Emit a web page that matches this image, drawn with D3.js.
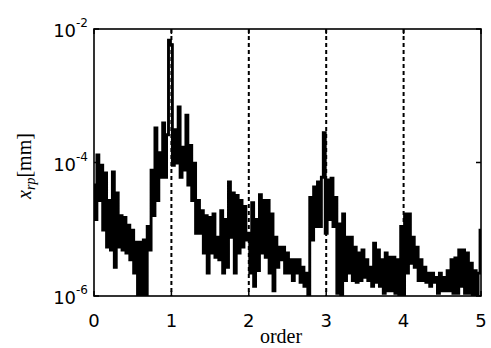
<!DOCTYPE html>
<html>
<head>
<meta charset="utf-8">
<script src="https://cdn.jsdelivr.net/npm/d3@7"></script>
<style>
  html, body { margin: 0; padding: 0; background: #fff; }
  svg { display: block; }
</style>
</head>
<body>
<svg id="chart" width="491" height="348"></svg>
<script>
// ---- data ----
const orderStep = 0.025; // spacing of spectrum samples (order units)
const amplitude = [
  4.6e-5, 1.4e-5, 1.3e-4, 2.7e-5, 9.1e-5, 9.7e-6, 7.0e-5, 5.4e-6, 2.7e-5, 4.9e-6,
  7.2e-5, 2.7e-6, 3.5e-5, 5.4e-6, 1.6e-5, 4.9e-6, 1.5e-5, 4.4e-6, 1.15e-5, 3.5e-6,
  9.7e-6, 2.2e-6, 6.4e-6, 9e-7, 6.4e-6, 9e-7, 6.9e-6, 9e-7, 1.1e-5, 4.9e-6,
  7.7e-5, 1.6e-5, 3.3e-4, 2.7e-5, 1.4e-4, 6.0e-5, 3.9e-4, 6.0e-5, 2.6e-4, 6.8e-3,
  5.8e-3, 9.1e-5, 3.1e-4, 9.8e-5, 6.8e-4, 6.0e-5, 1.7e-4, 7.7e-5, 5.1e-4, 4.6e-5,
  1.8e-4, 2.7e-5, 9.8e-5, 8.7e-6, 2.7e-5, 8.7e-6, 1.9e-5, 4.4e-6, 1.6e-5, 2.2e-6,
  1.5e-5, 4.4e-6, 1.7e-5, 3.8e-6, 7.6e-6, 3.5e-6, 1.9e-5, 2.2e-6, 1.4e-5, 2.7e-6,
  5.1e-5, 7.6e-6, 3.5e-5, 2.2e-6, 3.2e-5, 4.4e-6, 2.7e-5, 5.4e-6, 2.2e-5, 6.9e-6,
  8.7e-6, 2.2e-6, 2.5e-5, 1.4e-6, 1.4e-5, 2.4e-6, 3.3e-5, 4.4e-6, 2.7e-5, 3.8e-6,
  2.7e-5, 2.2e-6, 1.7e-5, 1.2e-6, 7.6e-6, 2.7e-6, 5.4e-6, 3.5e-6, 5.4e-6, 2.2e-6,
  4.4e-6, 2.2e-6, 3.5e-6, 1.7e-6, 3.5e-6, 2.2e-6, 3.5e-6, 1.6e-6, 2.7e-6, 1.4e-6,
  2.2e-6, 9e-7, 3.0e-5, 6.9e-6, 4.3e-5, 1.1e-5, 5.1e-5, 1.1e-5, 6.0e-5, 2.8e-4,
  8.7e-6, 5.5e-5, 1.4e-5, 5.8e-5, 1.1e-5, 3.0e-5, 1.1e-6, 1.2e-5, 9e-7, 1.7e-5,
  1.7e-6, 7.6e-6, 2.2e-6, 7.6e-6, 1.7e-6, 5.4e-6, 1.6e-6, 4.4e-6, 1.7e-6, 4.9e-6,
  1.9e-6, 3.5e-6, 1.7e-6, 2.7e-6, 1.4e-6, 6.2e-6, 1.6e-6, 4.9e-6, 1.4e-6, 3.5e-6,
  1.1e-6, 4.4e-6, 1.2e-6, 3.8e-6, 1.2e-6, 3.8e-6, 1.1e-6, 3.5e-6, 9e-7, 1.1e-5,
  9e-7, 1.7e-5, 2.2e-6, 1.7e-5, 3.1e-6, 7.6e-6, 2.7e-6, 5.4e-6, 1.7e-6, 3.5e-6,
  1.7e-6, 2.7e-6, 1.6e-6, 2.2e-6, 1.4e-6, 2.2e-6, 1.6e-6, 1.9e-6, 1.1e-6, 2.2e-6,
  1.2e-6, 1.9e-6, 1.2e-6, 2.4e-6, 1.2e-6, 3.5e-6, 1.1e-6, 3.7e-6, 1.1e-6, 4.9e-6,
  1.4e-6, 4.9e-6, 1.1e-6, 4.4e-6, 1.1e-6, 3.1e-6, 9e-7, 2.4e-6, 9e-7, 2.2e-6,
  9.7e-6
];
const harmonicOrders = [1, 2, 3, 4];
const xTicks = [0, 1, 2, 3, 4, 5];
const yTicks = [1e-2, 1e-4, 1e-6];
const yTickExponents = ["-2", "-4", "-6"];

// ---- layout ----
const L = 94, R = 481, T = 29, B = 296;
const svg = d3.select("#chart");
const x = d3.scaleLinear().domain([0, 5]).range([L, R]);
const y = d3.scaleLog().domain([1e-6, 1e-2]).range([B, T]);

svg.append("defs").append("clipPath").attr("id", "clip")
  .append("rect").attr("x", L).attr("y", T).attr("width", R - L).attr("height", B - T);

// dashed harmonic lines
svg.append("g").selectAll("line").data(harmonicOrders).join("line")
  .attr("x1", d => x(d)).attr("x2", d => x(d))
  .attr("y1", T).attr("y2", B)
  .attr("stroke", "#000").attr("stroke-width", 2)
  .attr("stroke-dasharray", "4,3");

// spectrum
const pts = amplitude.map((v, i) => [i * orderStep, v]);
svg.append("path")
  .attr("clip-path", "url(#clip)")
  .attr("d", d3.line().curve(d3.curveStep).x(d => x(d[0])).y(d => y(d[1]))(pts))
  .attr("fill", "none").attr("stroke", "#000")
  .attr("stroke-width", 2.9).attr("stroke-linejoin", "miter");

// frame
svg.append("rect").attr("x", L).attr("y", T).attr("width", R - L).attr("height", B - T)
  .attr("fill", "none").attr("stroke", "#000").attr("stroke-width", 1.6);

// ticks (inward)
const tg = svg.append("g").attr("stroke", "#000").attr("stroke-width", 1.5);
yTicks.forEach(t => {
  tg.append("line").attr("x1", L).attr("x2", L + 5).attr("y1", y(t)).attr("y2", y(t));
  tg.append("line").attr("x1", R).attr("x2", R - 5).attr("y1", y(t)).attr("y2", y(t));
});
xTicks.forEach(t => {
  tg.append("line").attr("x1", x(t)).attr("x2", x(t)).attr("y1", B).attr("y2", B - 5);
  tg.append("line").attr("x1", x(t)).attr("x2", x(t)).attr("y1", T).attr("y2", T + 5);
});

// y tick labels
const font = "'DejaVu Sans', Arial, sans-serif";
yTicks.forEach((t, i) => {
  const tx = svg.append("text")
    .attr("x", 88).attr("y", y(t) + 8)
    .attr("text-anchor", "end")
    .attr("font-family", font).attr("font-size", 18).attr("fill", "#000");
  tx.append("tspan").text("10");
  tx.append("tspan").attr("dy", -10).attr("font-size", 12).text(yTickExponents[i]);
});

// x tick labels
svg.append("g").selectAll("text").data(xTicks).join("text")
  .attr("x", d => x(d)).attr("y", 327)
  .attr("text-anchor", "middle")
  .attr("font-family", font).attr("font-size", 18).attr("fill", "#000")
  .text(d => d);

// axis titles
svg.append("text").attr("x", 281).attr("y", 343)
  .attr("text-anchor", "middle")
  .attr("font-family", "'Liberation Serif', 'Times New Roman', serif")
  .attr("font-size", 20).attr("fill", "#000").text("order");

const yl = svg.append("text")
  .attr("transform", "translate(31,166) rotate(-90)")
  .attr("text-anchor", "middle")
  .attr("font-family", "'Liberation Serif', 'Times New Roman', serif")
  .attr("font-size", 20).attr("fill", "#000");
yl.append("tspan").attr("font-style", "italic").text("x");
yl.append("tspan").attr("font-style", "italic").attr("font-size", 14).attr("dy", 4).text("rp");
yl.append("tspan").attr("dy", -4).text("[mm]");
</script>
</body>
</html>
